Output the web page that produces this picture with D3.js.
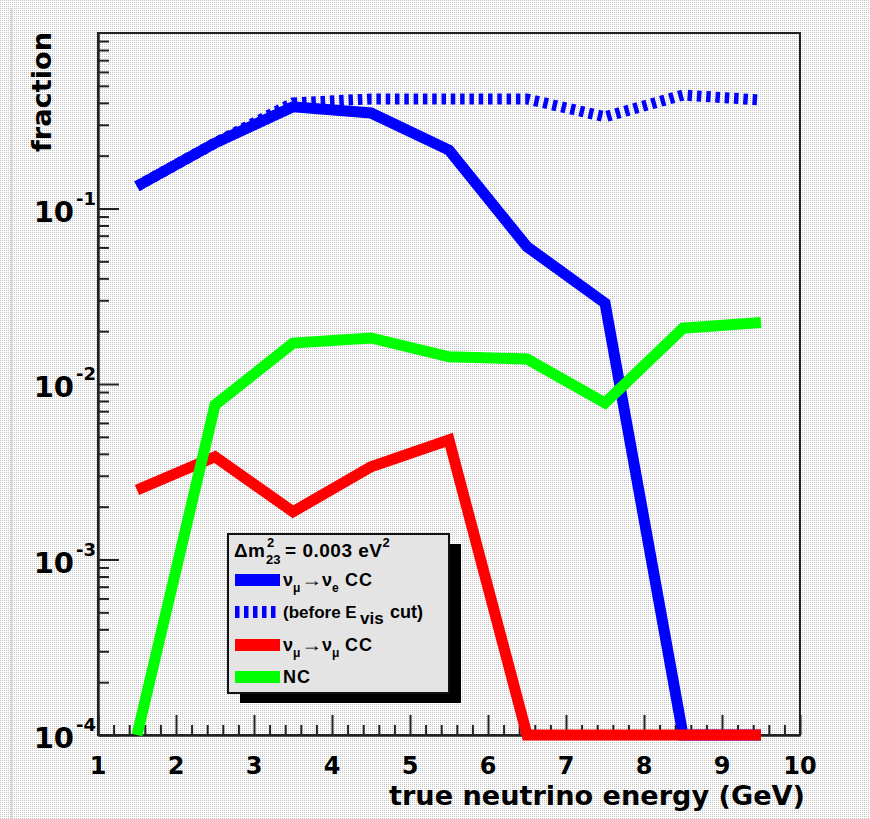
<!DOCTYPE html>
<html>
<head>
<meta charset="utf-8">
<script src="https://cdn.jsdelivr.net/npm/d3@7"></script>
<style>
  html, body { margin: 0; padding: 0; background: #fff; }
  svg { display: block; }
  text { font-family: "Liberation Sans", Arial, Helvetica, sans-serif; font-weight: bold; fill: #000; }
  text.axislabel { font-family: "DejaVu Sans", "Liberation Sans", sans-serif; }
</style>
</head>
<body>
<svg id="chart" width="870" height="819"></svg>
<script>
// Bin centres of true neutrino energy (GeV)
const energy = [1.5, 2.5, 3.5, 4.5, 5.5, 6.5, 7.5, 8.5, 9.5];

// Selected fraction per energy bin (empty bins sit on the 1e-4 floor)
const numuToNue          = [0.134, 0.236, 0.38, 0.35, 0.215, 0.0606, 0.0289, 1e-4, 1e-4];
const numuToNueBeforeCut = [0.134, 0.236, 0.40, 0.421, 0.421, 0.421, 0.333, 0.443, 0.415];
const numuToNumu         = [0.00249, 0.00385, 0.00187, 0.00338, 0.0048, 1e-4, 1e-4, 1e-4, 1e-4];
const neutralCurrent     = [1e-4, 0.0076, 0.0171, 0.0183, 0.0143, 0.0139, 0.0078, 0.0208, 0.0224];

// Axis ticks
const xMajorTicks = [1, 2, 3, 4, 5, 6, 7, 8, 9, 10];
const yLabelExponents = [-1, -2, -3, -4];

const xTitle = "true neutrino energy (GeV)";
const yTitle = "fraction";

const svg = d3.select("#chart");
const W = 870, H = 819;
const plotLeft = 98, plotRight = 800, plotTop = 33, plotBottom = 735;

// Stippled canvas background
const defs = svg.append("defs");
const pat = defs.append("pattern").attr("id", "stipple")
  .attr("patternUnits", "userSpaceOnUse").attr("width", 2).attr("height", 2);
pat.append("rect").attr("width", 2).attr("height", 2).attr("fill", "#ffffff");
pat.append("rect").attr("width", 1).attr("height", 1).attr("fill", "#c0c0c0");
svg.append("rect").attr("width", W).attr("height", H).attr("fill", "url(#stipple)");
svg.append("line").attr("x1", 11.5).attr("x2", 11.5).attr("y1", 8).attr("y2", H)
  .attr("stroke", "#d6d6d6").attr("stroke-width", 2);
svg.append("line").attr("x1", 11).attr("x2", W).attr("y1", 8.5).attr("y2", 8.5)
  .attr("stroke", "#e0e0e0").attr("stroke-width", 1);

const x = d3.scaleLinear().domain([1, 10]).range([plotLeft, plotRight]);
const y = d3.scaleLog().domain([1e-4, 1]).range([plotBottom, plotTop]);

// Minor ticks
const xMinorTicks = d3.range(1, 10.001, 0.2).map(v => +v.toFixed(1)).filter(v => Math.abs(v - Math.round(v)) > 1e-6);
const yMinorTicks = [];
for (let e = -4; e < 0; e++) for (let m = 2; m <= 9; m++) yMinorTicks.push(+(m * Math.pow(10, e)).toPrecision(3));
const yMajorTicks = yLabelExponents.map(e => Math.pow(10, e));

const axisColor = "#222";
function styleAxis(g) {
  g.selectAll("path.domain").attr("stroke", axisColor).attr("stroke-width", 2);
  g.selectAll(".tick line").attr("stroke", axisColor).attr("stroke-width", 2);
  g.selectAll(".tick text").remove();
}

// Frame
svg.append("rect").attr("x", plotLeft).attr("y", plotTop)
  .attr("width", plotRight - plotLeft).attr("height", plotBottom - plotTop)
  .attr("fill", "none").attr("stroke", axisColor).attr("stroke-width", 2);

// X axis
svg.append("g").attr("transform", `translate(0,${plotBottom})`)
  .call(d3.axisBottom(x).tickValues(xMinorTicks).tickSize(-10).tickSizeOuter(0).tickFormat(""))
  .call(styleAxis);
svg.append("g").attr("transform", `translate(0,${plotBottom})`)
  .call(d3.axisBottom(x).tickValues(xMajorTicks).tickSize(-20).tickSizeOuter(0).tickFormat(""))
  .call(styleAxis);

// Y axis
svg.append("g").attr("transform", `translate(${plotLeft},0)`)
  .call(d3.axisLeft(y).tickValues(yMinorTicks).tickSize(-11).tickSizeOuter(0).tickFormat(""))
  .call(styleAxis);
svg.append("g").attr("transform", `translate(${plotLeft},0)`)
  .call(d3.axisLeft(y).tickValues(yMajorTicks).tickSize(-21).tickSizeOuter(0).tickFormat(""))
  .call(styleAxis);

// X tick labels
svg.append("g").selectAll("text").data(xMajorTicks).join("text")
  .attr("class", "axislabel")
  .attr("x", d => x(d)).attr("y", plotBottom + 39)
  .attr("text-anchor", "middle").attr("font-size", 24)
  .text(d => d);

// Y tick labels: 10^k
const yl = svg.append("g").selectAll("g").data(yLabelExponents).join("g");
yl.append("text").attr("class", "axislabel")
  .attr("x", 74).attr("y", d => y(Math.pow(10, d)) + 13)
  .attr("text-anchor", "end").attr("font-size", 29)
  .text("10");
yl.append("text").attr("class", "axislabel")
  .attr("x", 76).attr("y", d => y(Math.pow(10, d)) - 4)
  .attr("font-size", 18)
  .text(d => String(d));

// Axis titles
svg.append("text").attr("class", "axislabel")
  .attr("x", 805).attr("y", 805).attr("text-anchor", "end")
  .attr("font-size", 26).attr("textLength", 416).attr("lengthAdjust", "spacingAndGlyphs")
  .text(xTitle);
svg.append("text").attr("class", "axislabel")
  .attr("transform", "translate(51,32) rotate(-90)")
  .attr("text-anchor", "end").attr("font-size", 26)
  .attr("textLength", 120).attr("lengthAdjust", "spacingAndGlyphs")
  .text(yTitle);

// Curves
const line = d3.line().x(d => x(d[0])).y(d => y(d[1]));
const series = [
  { values: numuToNue, color: "#0000ff", dash: null },
  { values: numuToNueBeforeCut, color: "#0000ff", dash: "4.5,4.8" },
  { values: numuToNumu, color: "#ff0000", dash: null },
  { values: neutralCurrent, color: "#00ff00", dash: null }
];
svg.append("g").selectAll("path").data(series).join("path")
  .attr("d", s => line(energy.map((e, i) => [e, s.values[i]])))
  .attr("fill", "none").attr("stroke", s => s.color).attr("stroke-width", 11)
  .attr("stroke-linejoin", "miter").attr("stroke-miterlimit", 10).attr("stroke-linecap", "butt")
  .attr("stroke-dasharray", s => s.dash);

// Legend
const lg = svg.append("g");
const lx = 228, ly = 534, lw = 221, lh = 159;
lg.append("rect").attr("x", lx + 12).attr("y", ly + 10).attr("width", lw).attr("height", lh).attr("fill", "#000");
lg.append("rect").attr("x", lx).attr("y", ly).attr("width", lw).attr("height", lh)
  .attr("fill", "#e4e4e4").attr("stroke", "#111").attr("stroke-width", 2);

const title = lg.append("text").attr("x", 234).attr("y", 557).attr("font-size", 19);
title.append("tspan").text("Δ");
title.append("tspan").attr("x", 248).text("m");
title.append("tspan").attr("x", 267).attr("dy", -10).attr("font-size", 13).text("2");
title.append("tspan").attr("x", 266).attr("dy", 17).attr("font-size", 13).text("23");
title.append("tspan").attr("x", 285).attr("dy", -7).attr("textLength", 97).attr("lengthAdjust", "spacing").text("= 0.003 eV");
title.append("tspan").attr("dy", -10).attr("font-size", 13).text("2");

const entries = [
  { cy: 580, color: "#0000ff", dash: null },
  { cy: 612, color: "#0000ff", dash: "4.5,4.5" },
  { cy: 645, color: "#ff0000", dash: null },
  { cy: 677, color: "#00ff00", dash: null }
];
lg.selectAll("line.sample").data(entries).join("line").attr("class", "sample")
  .attr("x1", 235).attr("x2", 280).attr("y1", d => d.cy).attr("y2", d => d.cy)
  .attr("stroke", d => d.color).attr("stroke-width", 12).attr("stroke-dasharray", d => d.dash);

function osc(cy, flav) {
  const t = lg.append("text").attr("x", 283).attr("y", cy + 6).attr("font-size", 18);
  t.append("tspan").text("ν");
  t.append("tspan").attr("dy", 6).attr("font-size", 12).text("μ");
  t.append("tspan").attr("x", 301).attr("dy", -6).attr("textLength", 21).attr("lengthAdjust", "spacingAndGlyphs").text("→");
  t.append("tspan").attr("x", 322).text("ν");
  t.append("tspan").attr("dy", 6).attr("font-size", 12).text(flav);
  t.append("tspan").attr("x", 345).attr("dy", -6).attr("textLength", 27).attr("lengthAdjust", "spacing").text("CC");
}
osc(entries[0].cy, "e");
const t2 = lg.append("text").attr("x", 283).attr("y", entries[1].cy + 6).attr("font-size", 17);
t2.append("tspan").text("(before E");
t2.append("tspan").attr("x", 360).attr("dy", 6).attr("font-size", 17).text("vis");
t2.append("tspan").attr("x", 390).attr("dy", -6).attr("font-size", 18).text("cut)");
osc(entries[2].cy, "μ");
lg.append("text").attr("x", 283).attr("y", entries[3].cy + 6).attr("font-size", 18)
  .attr("textLength", 27).attr("lengthAdjust", "spacing").text("NC");
</script>
</body>
</html>
